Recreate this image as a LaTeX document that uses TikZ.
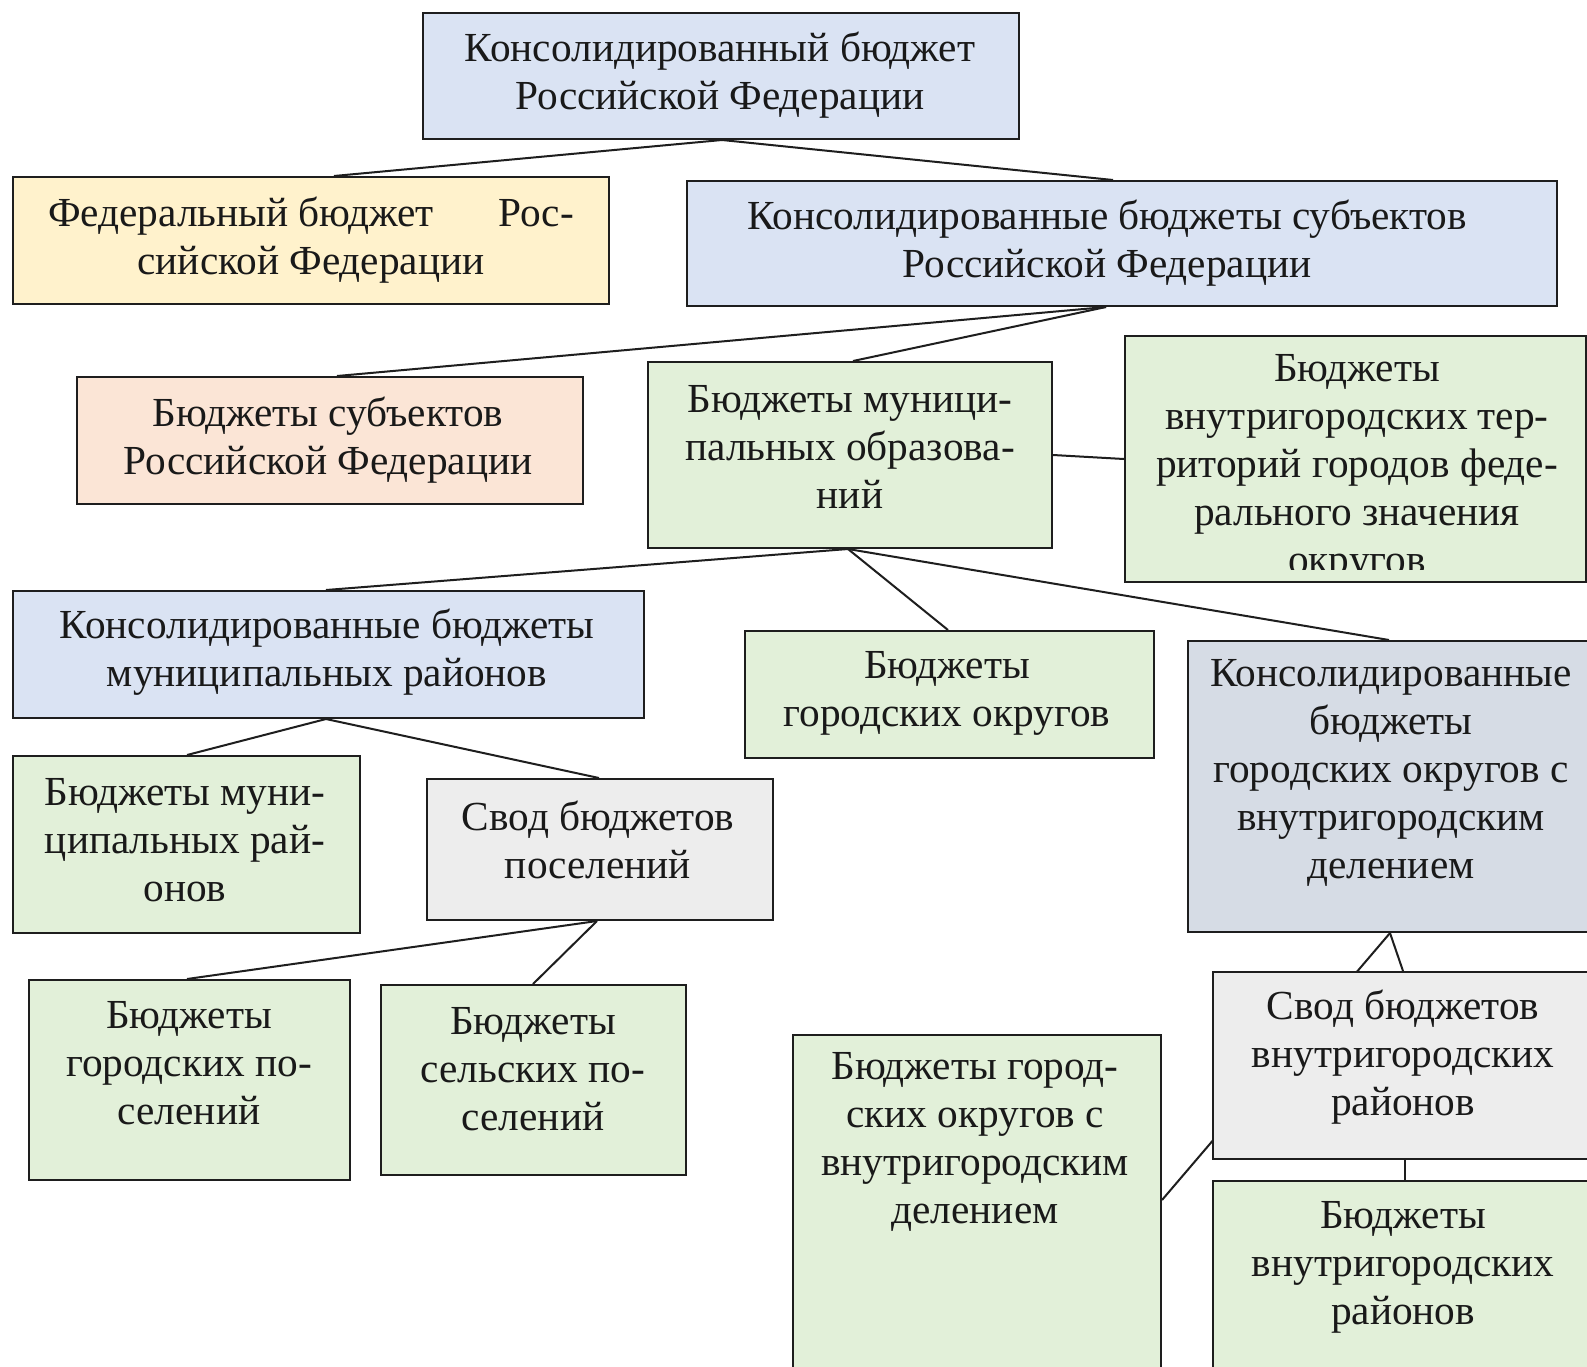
\documentclass[tikz,border=0pt]{standalone}
\usepackage{fontspec}
\setmainfont{Liberation Serif}
\usetikzlibrary{backgrounds}
\definecolor{cblue}{HTML}{DAE3F3}
\definecolor{corange}{HTML}{FFF2CC}
\definecolor{cpeach}{HTML}{FBE5D6}
\definecolor{cgreen}{HTML}{E2F0D9}
\definecolor{cgrayblue}{HTML}{D6DCE5}
\definecolor{cgray}{HTML}{EDEDED}
\definecolor{cline}{HTML}{1E1E1E}
\begin{document}
\begin{tikzpicture}[x=1pt,y=-1pt,
  box/.style={draw=cline, line width=2pt, rectangle, anchor=north west, inner sep=0pt},
  txt/.style={align=center, font=\fontsize{41.3}{48}\selectfont, inner sep=0pt, text=black!90},
  link/.style={line width=2pt, draw=cline}]
\clip (0,0) rectangle (1587,1366);
% boxes
\node[box, fill=cblue, minimum width=596pt, minimum height=126pt] (top) at (422,12) {};
\node[box, fill=corange, minimum width=596pt, minimum height=127pt] (fed) at (12,176) {};
\node[box, fill=cblue, minimum width=870pt, minimum height=125pt] (conssubj) at (686,180) {};
\node[box, fill=cpeach, minimum width=506pt, minimum height=127pt] (subj) at (76,376) {};
\node[box, fill=cgreen, minimum width=404pt, minimum height=186pt] (mun) at (647,361) {};
\node[box, fill=cgreen, minimum width=461pt, minimum height=246pt] (inner) at (1124,335) {};
\node[box, fill=cblue, minimum width=631pt, minimum height=127pt] (consmd) at (12,590) {};
\node[box, fill=cgreen, minimum width=409pt, minimum height=127pt] (cityok) at (744,630) {};
\node[box, fill=cgrayblue, minimum width=420pt, minimum height=291pt] (conscd) at (1187,640) {};
\node[box, fill=cgreen, minimum width=347pt, minimum height=177pt] (mundist) at (12,755) {};
\node[box, fill=cgray, minimum width=346pt, minimum height=141pt] (svodpos) at (426,778) {};
\node[box, fill=cgreen, minimum width=321pt, minimum height=200pt] (citypos) at (28,979) {};
\node[box, fill=cgreen, minimum width=305pt, minimum height=190pt] (ruralpos) at (380,984) {};
\node[box, fill=cgreen, minimum width=368pt, minimum height=350pt] (citydiv) at (792,1034) {};
\node[box, fill=cgray, minimum width=400pt, minimum height=187pt] (svodin) at (1212,971) {};
\node[box, fill=cgreen, minimum width=400pt, minimum height=200pt] (indist) at (1212,1180) {};
% connectors
\begin{scope}[on background layer]
\fill[white] (0,0) rectangle (1587,1366);
\draw[link] (722,0 |- top.south) -- (334,0 |- fed.north);
\draw[link] (722,0 |- top.south) -- (1113,0 |- conssubj.north);
\draw[link] (1106,0 |- conssubj.south) -- (337,0 |- subj.north);
\draw[link] (1106,0 |- conssubj.south) -- (853,0 |- mun.north);
\draw[link] (mun.east) -- (inner.west);
\draw[link] (848,0 |- mun.south) -- (326,0 |- consmd.north);
\draw[link] (848,0 |- mun.south) -- (948,0 |- cityok.north);
\draw[link] (848,0 |- mun.south) -- (1389,0 |- conscd.north);
\draw[link] (326,0 |- consmd.south) -- (187,0 |- mundist.north);
\draw[link] (326,0 |- consmd.south) -- (599,0 |- svodpos.north);
\draw[link] (597,0 |- svodpos.south) -- (187,0 |- citypos.north);
\draw[link] (597,0 |- svodpos.south) -- (533,0 |- ruralpos.north);
\draw[link] (1390,0 |- conscd.south) -- (1403,0 |- svodin.north);
\draw[link] (1390,0 |- conscd.south) -- (citydiv.east |- 0,1200);
\draw[link] (1405,0 |- svodin.south) -- (1405,0 |- indist.north);
\end{scope}
% texts
\node[txt] (ttop) at (720,75) {Консолидированный бюджет\\Российской Федерации};
\node[txt] (tfed) at (311,240) {\makebox[526pt]{Федеральный бюджет\hfill Рос-}\\сийской Федерации};
\node[txt] (tconssubj) at (1107,243) {Консолидированные бюджеты субъектов\\Российской Федерации};
\node[txt] (tsubj) at (328,440) {Бюджеты субъектов\\Российской Федерации};
\node[txt] (tmun) at (850,447) {Бюджеты муници-\\пальных образова-\\ний};
\begin{scope}
\clip (1124,335) rectangle (1585,569);
\node[txt] (tinner) at (1357,468) {Бюджеты\\внутригородских тер-\\риторий городов феде-\\рального значения\\округов};
\end{scope}
\node[txt] (tconsmd) at (327,652) {Консолидированные бюджеты\\муниципальных районов};
\node[txt] (tcityok) at (947,693) {Бюджеты\\городских округов};
\node[txt] (tconscd) at (1391,773) {Консолидированные\\бюджеты\\городских округов с\\внутригородским\\делением};
\node[txt] (tmundist) at (185,840) {Бюджеты муни-\\ципальных рай-\\онов};
\node[txt] (tsvodpos) at (598,840) {Свод бюджетов\\поселений};
\node[txt] (tcitypos) at (189,1063) {Бюджеты\\городских по-\\селений};
\node[txt] (truralpos) at (533,1069) {Бюджеты\\сельских по-\\селений};
\node[txt] (tcitydiv) at (975,1142) {Бюджеты город-\\ских округов с\\внутригородским\\делением};
\node[txt] (tsvodin) at (1403,1057) {Свод бюджетов\\внутригородских\\районов};
\node[txt] (tindist) at (1403,1267) {Бюджеты\\внутригородских\\районов};
\end{tikzpicture}
\end{document}
